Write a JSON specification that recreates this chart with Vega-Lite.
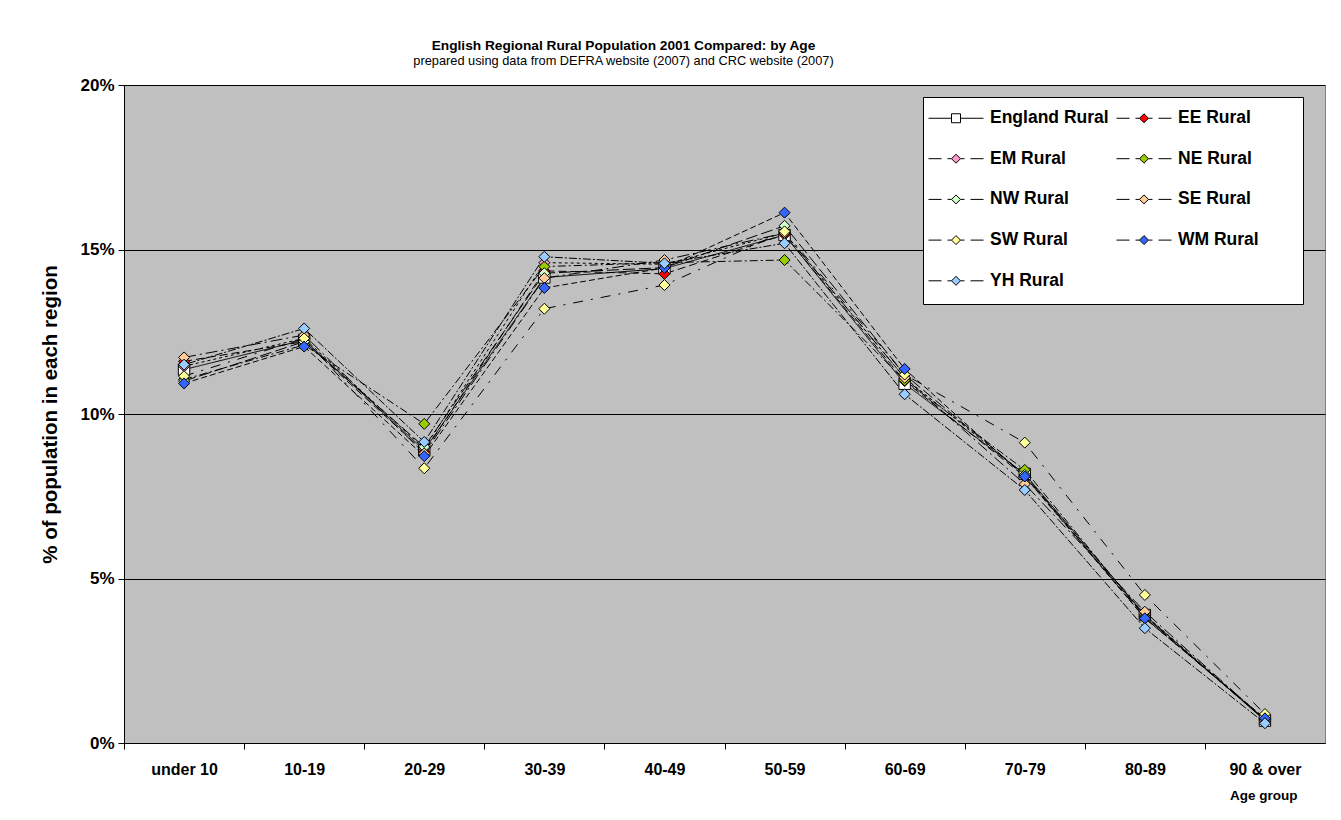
{
  "$schema": "https://vega.github.io/schema/vega-lite/v6.json",
  "autosize": "none",
  "width": 1201,
  "height": 658,
  "padding": {"left": 124, "top": 85, "right": 16, "bottom": 77},
  "background": "white",
  "title": {
    "text": "English Regional Rural Population 2001 Compared: by Age",
    "subtitle": "prepared using data from DEFRA website (2007) and CRC website (2007)",
    "anchor": "middle",
    "dx": -101,
    "offset": 8,
    "font": "Liberation Sans",
    "fontSize": 13.7,
    "fontWeight": "bold",
    "color": "black",
    "subtitleFont": "Liberation Sans",
    "subtitleFontSize": 12.8,
    "subtitleColor": "black",
    "subtitlePadding": 3
  },
  "data": {
    "values": [
      {"age": "under 10", "region": "England Rural", "pct": 0.1135},
      {"age": "10-19", "region": "England Rural", "pct": 0.1225},
      {"age": "20-29", "region": "England Rural", "pct": 0.089},
      {"age": "30-39", "region": "England Rural", "pct": 0.1415},
      {"age": "40-49", "region": "England Rural", "pct": 0.1442},
      {"age": "50-59", "region": "England Rural", "pct": 0.1544},
      {"age": "60-69", "region": "England Rural", "pct": 0.1092},
      {"age": "70-79", "region": "England Rural", "pct": 0.0818},
      {"age": "80-89", "region": "England Rural", "pct": 0.0389},
      {"age": "90 & over", "region": "England Rural", "pct": 0.0068},

      {"age": "under 10", "region": "EE Rural", "pct": 0.116},
      {"age": "10-19", "region": "EE Rural", "pct": 0.122},
      {"age": "20-29", "region": "EE Rural", "pct": 0.0885},
      {"age": "30-39", "region": "EE Rural", "pct": 0.1435},
      {"age": "40-49", "region": "EE Rural", "pct": 0.1426},
      {"age": "50-59", "region": "EE Rural", "pct": 0.1545},
      {"age": "60-69", "region": "EE Rural", "pct": 0.11},
      {"age": "70-79", "region": "EE Rural", "pct": 0.081},
      {"age": "80-89", "region": "EE Rural", "pct": 0.0385},
      {"age": "90 & over", "region": "EE Rural", "pct": 0.007},

      {"age": "under 10", "region": "EM Rural", "pct": 0.1145},
      {"age": "10-19", "region": "EM Rural", "pct": 0.123},
      {"age": "20-29", "region": "EM Rural", "pct": 0.0895},
      {"age": "30-39", "region": "EM Rural", "pct": 0.146},
      {"age": "40-49", "region": "EM Rural", "pct": 0.1455},
      {"age": "50-59", "region": "EM Rural", "pct": 0.155},
      {"age": "60-69", "region": "EM Rural", "pct": 0.111},
      {"age": "70-79", "region": "EM Rural", "pct": 0.0815},
      {"age": "80-89", "region": "EM Rural", "pct": 0.039},
      {"age": "90 & over", "region": "EM Rural", "pct": 0.0072},

      {"age": "under 10", "region": "NE Rural", "pct": 0.1105},
      {"age": "10-19", "region": "NE Rural", "pct": 0.121},
      {"age": "20-29", "region": "NE Rural", "pct": 0.097},
      {"age": "30-39", "region": "NE Rural", "pct": 0.1448},
      {"age": "40-49", "region": "NE Rural", "pct": 0.146},
      {"age": "50-59", "region": "NE Rural", "pct": 0.1468},
      {"age": "60-69", "region": "NE Rural", "pct": 0.1102},
      {"age": "70-79", "region": "NE Rural", "pct": 0.083},
      {"age": "80-89", "region": "NE Rural", "pct": 0.0385},
      {"age": "90 & over", "region": "NE Rural", "pct": 0.007},

      {"age": "under 10", "region": "NW Rural", "pct": 0.11},
      {"age": "10-19", "region": "NW Rural", "pct": 0.122},
      {"age": "20-29", "region": "NW Rural", "pct": 0.09},
      {"age": "30-39", "region": "NW Rural", "pct": 0.1428},
      {"age": "40-49", "region": "NW Rural", "pct": 0.1445},
      {"age": "50-59", "region": "NW Rural", "pct": 0.1572},
      {"age": "60-69", "region": "NW Rural", "pct": 0.112},
      {"age": "70-79", "region": "NW Rural", "pct": 0.0815},
      {"age": "80-89", "region": "NW Rural", "pct": 0.038},
      {"age": "90 & over", "region": "NW Rural", "pct": 0.0072},

      {"age": "under 10", "region": "SE Rural", "pct": 0.1172},
      {"age": "10-19", "region": "SE Rural", "pct": 0.124},
      {"age": "20-29", "region": "SE Rural", "pct": 0.088},
      {"age": "30-39", "region": "SE Rural", "pct": 0.1413},
      {"age": "40-49", "region": "SE Rural", "pct": 0.1468},
      {"age": "50-59", "region": "SE Rural", "pct": 0.155},
      {"age": "60-69", "region": "SE Rural", "pct": 0.111},
      {"age": "70-79", "region": "SE Rural", "pct": 0.0787},
      {"age": "80-89", "region": "SE Rural", "pct": 0.0399},
      {"age": "90 & over", "region": "SE Rural", "pct": 0.007},

      {"age": "under 10", "region": "SW Rural", "pct": 0.1115},
      {"age": "10-19", "region": "SW Rural", "pct": 0.123},
      {"age": "20-29", "region": "SW Rural", "pct": 0.0835},
      {"age": "30-39", "region": "SW Rural", "pct": 0.132},
      {"age": "40-49", "region": "SW Rural", "pct": 0.1392},
      {"age": "50-59", "region": "SW Rural", "pct": 0.1555},
      {"age": "60-69", "region": "SW Rural", "pct": 0.112},
      {"age": "70-79", "region": "SW Rural", "pct": 0.0913},
      {"age": "80-89", "region": "SW Rural", "pct": 0.045},
      {"age": "90 & over", "region": "SW Rural", "pct": 0.0088},

      {"age": "under 10", "region": "WM Rural", "pct": 0.1093},
      {"age": "10-19", "region": "WM Rural", "pct": 0.1205},
      {"age": "20-29", "region": "WM Rural", "pct": 0.0872},
      {"age": "30-39", "region": "WM Rural", "pct": 0.1383},
      {"age": "40-49", "region": "WM Rural", "pct": 0.1444},
      {"age": "50-59", "region": "WM Rural", "pct": 0.1612},
      {"age": "60-69", "region": "WM Rural", "pct": 0.1137},
      {"age": "70-79", "region": "WM Rural", "pct": 0.081},
      {"age": "80-89", "region": "WM Rural", "pct": 0.0379},
      {"age": "90 & over", "region": "WM Rural", "pct": 0.0075},

      {"age": "under 10", "region": "YH Rural", "pct": 0.115},
      {"age": "10-19", "region": "YH Rural", "pct": 0.126},
      {"age": "20-29", "region": "YH Rural", "pct": 0.0915},
      {"age": "30-39", "region": "YH Rural", "pct": 0.1478},
      {"age": "40-49", "region": "YH Rural", "pct": 0.1458},
      {"age": "50-59", "region": "YH Rural", "pct": 0.1519},
      {"age": "60-69", "region": "YH Rural", "pct": 0.106},
      {"age": "70-79", "region": "YH Rural", "pct": 0.0769},
      {"age": "80-89", "region": "YH Rural", "pct": 0.0349},
      {"age": "90 & over", "region": "YH Rural", "pct": 0.006}
    ]
  },
  "encoding": {
    "x": {
      "field": "age",
      "type": "nominal",
      "sort": ["under 10", "10-19", "20-29", "30-39", "40-49", "50-59", "60-69", "70-79", "80-89", "90 & over"],
      "scale": {"type": "point", "padding": 0.5},
      "axis": {
        "title": "Age group",
        "titleFont": "Liberation Sans",
        "titleFontSize": 13.5,
        "titleFontWeight": "bold",
        "titleColor": "black",
        "titleX": 1173,
        "titleY": 52,
        "titleAlign": "right",
        "titleBaseline": "middle",
        "labelAngle": 0,
        "labelFont": "Liberation Sans",
        "labelFontSize": 16,
        "labelFontWeight": "bold",
        "labelColor": "black",
        "labelPadding": 12,
        "tickOffset": -60.05,
        "labelOffset": 60.05,
        "tickSize": 6,
        "tickColor": "black",
        "domainColor": "black",
        "grid": false
      }
    },
    "y": {
      "field": "pct",
      "type": "quantitative",
      "scale": {"domain": [0, 0.2], "nice": false, "zero": true},
      "axis": {
        "values": [0, 0.05, 0.1, 0.15, 0.2],
        "format": ".0%",
        "title": "% of population in each region",
        "titleFont": "Liberation Sans",
        "titleFontSize": 20.5,
        "titleFontWeight": "bold",
        "titleColor": "black",
        "titleAngle": 270,
        "titleX": -74,
        "titleY": 329,
        "titleAlign": "center",
        "titleBaseline": "middle",
        "labelFont": "Liberation Sans",
        "labelFontSize": 17,
        "labelFontWeight": "bold",
        "labelColor": "black",
        "labelPadding": 4,
        "tickSize": 6,
        "tickColor": "black",
        "domainColor": "black",
        "grid": true,
        "gridColor": "black",
        "gridOpacity": 1
      }
    }
  },
  "layer": [
    {
      "mark": {"type": "line", "color": "black", "strokeWidth": 1},
      "encoding": {
        "detail": {"field": "region", "type": "nominal"},
        "strokeDash": {
          "field": "region",
          "type": "nominal",
          "scale": {
            "range": [[8, 4], [3, 3], [1, 0], [8, 3, 2, 3], [12, 4], [12, 4, 2, 4], [10, 8, 2, 8], [6, 3], [2, 2, 8, 2]]
          },
          "legend": null
        }
      }
    },
    {
      "transform": [{"filter": "datum.region === 'England Rural'"}],
      "mark": {"type": "point", "shape": "square", "filled": true, "stroke": "black", "strokeWidth": 1, "size": 130, "opacity": 1},
      "encoding": {
        "fill": {
          "field": "region",
          "type": "nominal",
          "scale": {
            "domain": ["England Rural", "EE Rural", "EM Rural", "NE Rural", "NW Rural", "SE Rural", "SW Rural", "WM Rural", "YH Rural"],
            "range": ["#FFFFFF", "#FF0000", "#FF99CC", "#99CC00", "#CCFFCC", "#FFCC99", "#FFFF99", "#3366FF", "#99CCFF"]
          },
          "legend": {
            "title": null,
            "orient": "none",
            "legendX": 799,
            "legendY": 12,
            "direction": "horizontal",
            "columns": 2,
            "gridAlign": "all",
            "columnPadding": 4,
            "rowPadding": 4.7,
            "padding": 5,
            "fillColor": "white",
            "strokeColor": "black",
            "labelFont": "Liberation Sans",
            "labelFontSize": 17.5,
            "labelFontWeight": "bold",
            "labelColor": "black",
            "labelOffset": 30,
            "labelLimit": 300,
            "symbolSize": 961,
            "symbolOpacity": 1,
            "symbolStrokeColor": "black",
            "symbolStrokeWidth": 1
          }
        }
      }
    },
    {
      "transform": [{"filter": "datum.region !== 'England Rural'"}],
      "mark": {"type": "point", "shape": "diamond", "filled": true, "stroke": "black", "strokeWidth": 1, "size": 121, "opacity": 1},
      "encoding": {
        "fill": {"field": "region", "type": "nominal"}
      }
    },
    {
      "transform": [{"filter": "false"}],
      "mark": {"type": "point", "filled": true, "stroke": "black", "strokeWidth": 1, "size": 961, "opacity": 1},
      "encoding": {
        "shape": {
          "field": "region",
          "type": "nominal",
          "scale": {
            "domain": ["England Rural", "EE Rural", "EM Rural", "NE Rural", "NW Rural", "SE Rural", "SW Rural", "WM Rural", "YH Rural"],
            "range": [
              "M-1,0H0.484M1.065,0H2.55M0.484,-0.29H1.065V0.29H0.484ZM0,-1M0,1M10.55,0",
              "M-1,0H-0.16M0.226,0H0.484M1.065,0H1.323M1.71,0H2.55M0.484,0L0.774,-0.29L1.065,0L0.774,0.29ZM0,-1M0,1M10.55,0",
              "M-1,0H-0.16M0.226,0H0.484M1.065,0H1.323M1.71,0H2.55M0.484,0L0.774,-0.29L1.065,0L0.774,0.29ZM0,-1M0,1M10.55,0",
              "M-1,0H-0.16M0.226,0H0.484M1.065,0H1.323M1.71,0H2.55M0.484,0L0.774,-0.29L1.065,0L0.774,0.29ZM0,-1M0,1M10.55,0",
              "M-1,0H-0.16M0.226,0H0.484M1.065,0H1.323M1.71,0H2.55M0.484,0L0.774,-0.29L1.065,0L0.774,0.29ZM0,-1M0,1M10.55,0",
              "M-1,0H-0.16M0.226,0H0.484M1.065,0H1.323M1.71,0H2.55M0.484,0L0.774,-0.29L1.065,0L0.774,0.29ZM0,-1M0,1M10.55,0",
              "M-1,0H-0.16M0.226,0H0.484M1.065,0H1.323M1.71,0H2.55M0.484,0L0.774,-0.29L1.065,0L0.774,0.29ZM0,-1M0,1M10.55,0",
              "M-1,0H-0.16M0.226,0H0.484M1.065,0H1.323M1.71,0H2.55M0.484,0L0.774,-0.29L1.065,0L0.774,0.29ZM0,-1M0,1M10.55,0",
              "M-1,0H-0.16M0.226,0H0.484M1.065,0H1.323M1.71,0H2.55M0.484,0L0.774,-0.29L1.065,0L0.774,0.29ZM0,-1M0,1M10.55,0"
            ]
          }
        },
        "fill": {"field": "region", "type": "nominal"}
      }
    }
  ],
  "config": {
    "view": {"fill": "#C0C0C0", "stroke": "#808080"},
    "font": "Liberation Sans"
  }
}
